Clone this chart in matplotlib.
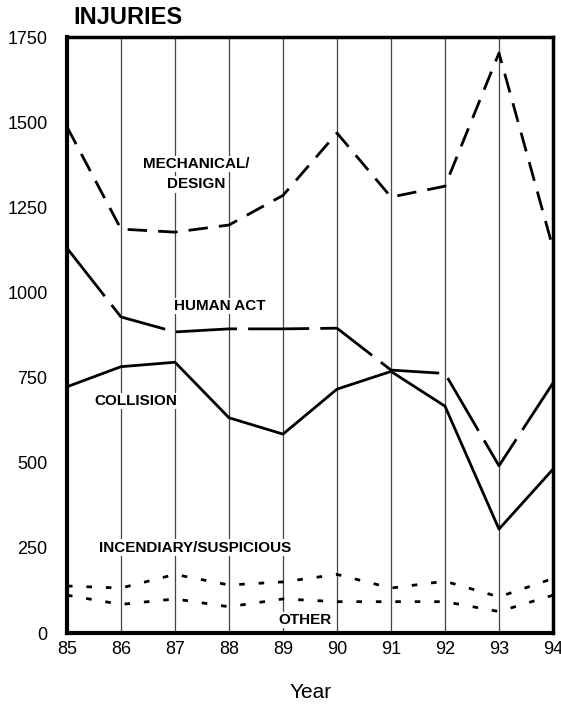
import matplotlib.pyplot as plt

plt.rcParams['font.family'] = ['Liberation Sans Narrow', 'Liberation Sans', 'DejaVu Sans']

years = [85, 86, 87, 88, 89, 90, 91, 92, 93, 94]
mechanical = [1486, 1186, 1177, 1198, 1285, 1468, 1280, 1312, 1703, 1130]
human_act = [1130, 928, 884, 893, 893, 895, 772, 762, 491, 734]
collision = [723, 782, 795, 632, 584, 716, 768, 666, 305, 481]
incendiary = [138, 132, 172, 141, 150, 172, 132, 152, 106, 160]
other = [111, 84, 100, 77, 100, 92, 92, 92, 63, 111]
yticks = [0, 250, 500, 750, 1000, 1250, 1500, 1750]


def label(ax, x, y, text):
    # label sits on a white box so grid lines break behind it
    ax.text(x, y, text, ha='center', va='center', fontsize=11, fontweight='bold',
            bbox=dict(facecolor='white', edgecolor='none', pad=1), zorder=4)


def main():
    fig = plt.figure(figsize=(5.61, 7.07), dpi=100)
    ax = fig.add_axes([67 / 561, 74 / 707, 486 / 561, 596 / 707])

    for yr in years[1:-1]:
        ax.axvline(yr, color='#444444', lw=0.9, zorder=1)

    ax.plot(years, mechanical, color='black', lw=2, ls=(0, (7, 4)), zorder=3)
    ax.plot(years, human_act, color='black', lw=2, ls=(0, (22, 4)), zorder=3)
    ax.plot(years, collision, color='black', lw=2, zorder=3)
    ax.plot(years, incendiary, color='black', lw=2, ls=(0, (2, 5)), zorder=3)
    ax.plot(years, other, color='black', lw=2, ls=(0, (2, 5)), zorder=3)

    label(ax, 87.4, 1377, 'MECHANICAL/')
    label(ax, 87.4, 1318, 'DESIGN')
    label(ax, 87.83, 960, 'HUMAN ACT')
    label(ax, 86.28, 681, 'COLLISION')
    label(ax, 87.37, 250, 'INCENDIARY/SUSPICIOUS')
    label(ax, 89.4, 38, 'OTHER')

    ax.set_xlim(85, 94)
    ax.set_ylim(0, 1750)
    ax.set_xticks(years)
    ax.set_yticks(yticks)
    ax.tick_params(length=0, labelsize=13)
    ax.tick_params(axis='y', pad=14)
    ax.tick_params(axis='x', pad=6)
    for side in ['left', 'bottom']:
        ax.spines[side].set_linewidth(3)
    for side in ['top', 'right']:
        ax.spines[side].set_linewidth(2.5)

    fig.text(73 / 561, 1 - 18 / 707, 'INJURIES', fontsize=17, fontweight='bold',
             ha='left', va='center')
    fig.text(311 / 561, 1 - 692 / 707, 'Year', fontsize=15, ha='center', va='center')

    fig.savefig('out.png', dpi=100)


if __name__ == "__main__":
    main()
